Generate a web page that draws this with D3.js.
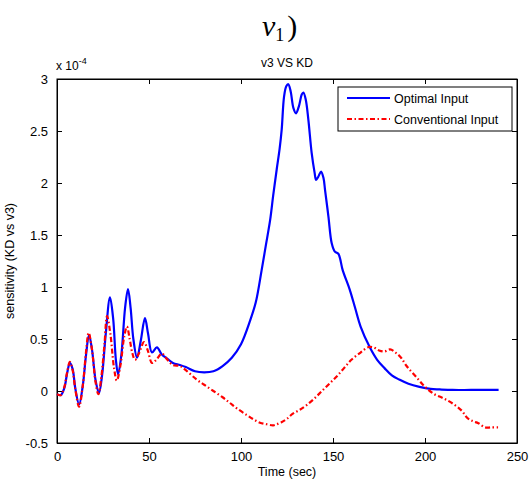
<!DOCTYPE html>
<html>
<head>
<meta charset="utf-8">
<script src="https://cdn.jsdelivr.net/npm/d3@7"></script>
<style>
  body { margin: 0; background: #fff; }
  text { font-family: "Liberation Sans", Arial, sans-serif; }
</style>
</head>
<body>
<div id="chart"></div>
<script>
// time (sec) and sensitivity (x 1e-4)
const optimalT = [0, 2, 4, 5.5, 7, 8.5, 10, 12, 14, 15.8, 17.4, 19, 21, 22.8, 24.5, 26.5, 28.8, 30.5, 32, 33.2, 35, 37, 38.6, 40, 41.5, 43.5, 45.5, 47.8, 49.5, 51.6, 54.3, 57, 60, 63, 66.8, 70, 75, 80, 85, 90, 95, 100, 105, 108, 111.2, 113.5, 115.8, 117.5, 119.4, 121, 122.1, 123.4, 124.6, 125.7, 127, 128.5, 129.9, 131.5, 133, 133.9, 135.2, 136.6, 138.4, 140, 140.8, 142, 143.5, 144.8, 145.7, 147.5, 149.3, 151, 152.9, 155.3, 159, 162, 165, 170, 174, 178, 182, 186, 191, 197, 203, 208, 215, 225, 240];
const optimalV = [-0.03, -0.04, 0.03, 0.17, 0.27, 0.21, 0.02, -0.13, 0.05, 0.35, 0.54, 0.4, 0.1, -0.02, 0.15, 0.55, 0.9, 0.7, 0.3, 0.16, 0.35, 0.8, 0.98, 0.8, 0.5, 0.32, 0.48, 0.7, 0.55, 0.37, 0.42, 0.35, 0.31, 0.27, 0.25, 0.23, 0.19, 0.18, 0.19, 0.24, 0.32, 0.45, 0.68, 0.85, 1.16, 1.4, 1.64, 1.88, 2.13, 2.33, 2.51, 2.83, 2.93, 2.95, 2.88, 2.72, 2.67, 2.74, 2.85, 2.87, 2.8, 2.61, 2.29, 2.1, 2.03, 2.06, 2.11, 2.05, 1.93, 1.68, 1.42, 1.34, 1.32, 1.16, 0.98, 0.8, 0.62, 0.42, 0.3, 0.22, 0.15, 0.11, 0.07, 0.04, 0.02, 0.015, 0.01, 0.01, 0.01];

const conventionalT = [0, 2, 4, 5.5, 7, 8.5, 10, 12, 14, 15.8, 17.2, 19, 21, 22.5, 24, 25.8, 27.2, 29, 31, 32.5, 34.5, 36.5, 38, 39.5, 41, 42.4, 44.5, 47.3, 49.5, 51.6, 54, 57, 60, 63, 66.8, 70, 75.9, 80, 85, 90, 94, 98, 103, 106.6, 110.3, 114, 117.5, 119.4, 122, 124.8, 128, 132, 135.7, 140, 144, 148.4, 152, 156, 160, 165, 169, 172, 175, 178, 181, 184, 187, 190, 195, 200, 205, 210, 215, 220, 223, 226, 229, 232.6, 236, 239.7];
const conventionalV = [-0.03, -0.04, 0.04, 0.18, 0.28, 0.2, 0.01, -0.15, 0.05, 0.38, 0.56, 0.4, 0.08, -0.03, 0.12, 0.45, 0.72, 0.55, 0.22, 0.1, 0.25, 0.52, 0.62, 0.5, 0.36, 0.3, 0.36, 0.47, 0.38, 0.27, 0.3, 0.36, 0.3, 0.25, 0.24, 0.2, 0.11, 0.06, 0.0, -0.06, -0.115, -0.17, -0.23, -0.27, -0.305, -0.32, -0.33, -0.32, -0.3, -0.27, -0.22, -0.18, -0.135, -0.07, 0.0, 0.077, 0.14, 0.22, 0.3, 0.37, 0.42, 0.42, 0.39, 0.38, 0.4, 0.37, 0.32, 0.24, 0.14, 0.04, -0.03, -0.07, -0.12, -0.19, -0.26, -0.29, -0.31, -0.35, -0.35, -0.35];

const xTicks = [0, 50, 100, 150, 200, 250];
const yTicks = [-0.5, 0, 0.5, 1, 1.5, 2, 2.5, 3];
const seriesNames = ["Optimal Input", "Conventional Input"];

const W = 529, H = 483;
const margin = {top: 79, right: 12, bottom: 40, left: 57};
const width = W - margin.left - margin.right;
const height = H - margin.top - margin.bottom;

const svg = d3.select("#chart").append("svg")
    .attr("width", W)
    .attr("height", H);

// fragment of the paper's formula cut off above the figure
const frag = svg.append("text")
    .attr("x", 262).attr("y", 36)
    .style("font-family", "'Liberation Serif', 'Times New Roman', serif")
    .style("font-size", "30px");
frag.append("tspan").style("font-style", "italic").text("v");
frag.append("tspan").attr("dy", 5).style("font-size", "18px").text("1");
frag.append("tspan").attr("dy", -5).attr("dx", 3).text(")");

const g = svg.append("g")
    .attr("transform", "translate(" + margin.left + "," + margin.top + ")");

var x = d3.scaleLinear().domain([0, 250]).range([0, width]);
var y = d3.scaleLinear().domain([-0.5, 3]).range([height, 0]);

// box
g.append("rect")
    .attr("width", width).attr("height", height)
    .attr("fill", "none").attr("stroke", "#000").attr("stroke-width", 1);

// axes with inward ticks
const fmt = d => String(d);
g.append("g")
    .attr("transform", "translate(0," + height + ")")
    .call(d3.axisBottom(x).tickValues(xTicks).tickSizeInner(-5).tickSizeOuter(0).tickPadding(9).tickFormat(fmt));
g.append("g")
    .call(d3.axisTop(x).tickValues(xTicks).tickSizeInner(-5).tickSizeOuter(0).tickFormat(""));
g.append("g")
    .call(d3.axisLeft(y).tickValues(yTicks).tickSizeInner(-5).tickSizeOuter(0).tickPadding(9).tickFormat(fmt));
g.append("g")
    .attr("transform", "translate(" + width + ",0)")
    .call(d3.axisRight(y).tickValues(yTicks).tickSizeInner(-5).tickSizeOuter(0).tickFormat(""));

g.selectAll(".domain").attr("stroke", "#000");
g.selectAll(".tick line").attr("stroke", "#000");
g.selectAll(".tick text")
    .style("font-family", "'Liberation Sans', Arial, sans-serif")
    .style("font-size", "13px")
    .attr("fill", "#000");

// lines
const optimal = optimalT.map((t, i) => [t, optimalV[i]]);
const conventional = conventionalT.map((t, i) => [t, conventionalV[i]]);

const line = d3.line()
    .x(d => x(d[0]))
    .y(d => y(d[1]))
    .curve(d3.curveCatmullRom.alpha(0.5));

g.append("path")
    .datum(optimal)
    .attr("d", line)
    .attr("fill", "none")
    .attr("stroke", "#0000ff")
    .attr("stroke-width", 2.2);

g.append("path")
    .datum(conventional)
    .attr("d", line)
    .attr("fill", "none")
    .attr("stroke", "#ff0000")
    .attr("stroke-width", 2.2)
    .attr("stroke-dasharray", "5,2.5,1.5,2.5");

// titles and labels
svg.append("text")
    .attr("x", margin.left + width / 2).attr("y", 67)
    .attr("text-anchor", "middle")
    .style("font-size", "12px")
    .text("v3 VS KD");

const expo = svg.append("text")
    .attr("x", 56).attr("y", 70)
    .style("font-size", "12px");
expo.append("tspan").text("x 10");
expo.append("tspan").attr("dy", -6).style("font-size", "9px").text("-4");

svg.append("text")
    .attr("x", margin.left + width / 2).attr("y", 476)
    .attr("text-anchor", "middle")
    .style("font-size", "12.5px")
    .text("Time (sec)");

svg.append("text")
    .attr("transform", "translate(14," + (margin.top + height / 2) + ") rotate(-90)")
    .attr("text-anchor", "middle")
    .style("font-size", "12.5px")
    .text("sensitivity (KD vs v3)");

// legend
const legend = svg.append("g").attr("transform", "translate(338,87)");
legend.append("rect")
    .attr("width", 174).attr("height", 44)
    .attr("fill", "#fff").attr("stroke", "#000").attr("stroke-width", 1);
const legendStyles = [
    {color: "#0000ff", dash: null},
    {color: "#ff0000", dash: "5,2.5,1.5,2.5"}
];
seriesNames.forEach((name, i) => {
    const row = legend.append("g").attr("transform", "translate(0," + (11 + i * 21) + ")");
    row.append("line")
        .attr("x1", 9).attr("x2", 52)
        .attr("stroke", legendStyles[i].color)
        .attr("stroke-width", 2.2)
        .attr("stroke-dasharray", legendStyles[i].dash);
    row.append("text")
        .attr("x", 56).attr("y", 4.5)
        .style("font-size", "12.5px")
        .text(name);
});
</script>
</body>
</html>
